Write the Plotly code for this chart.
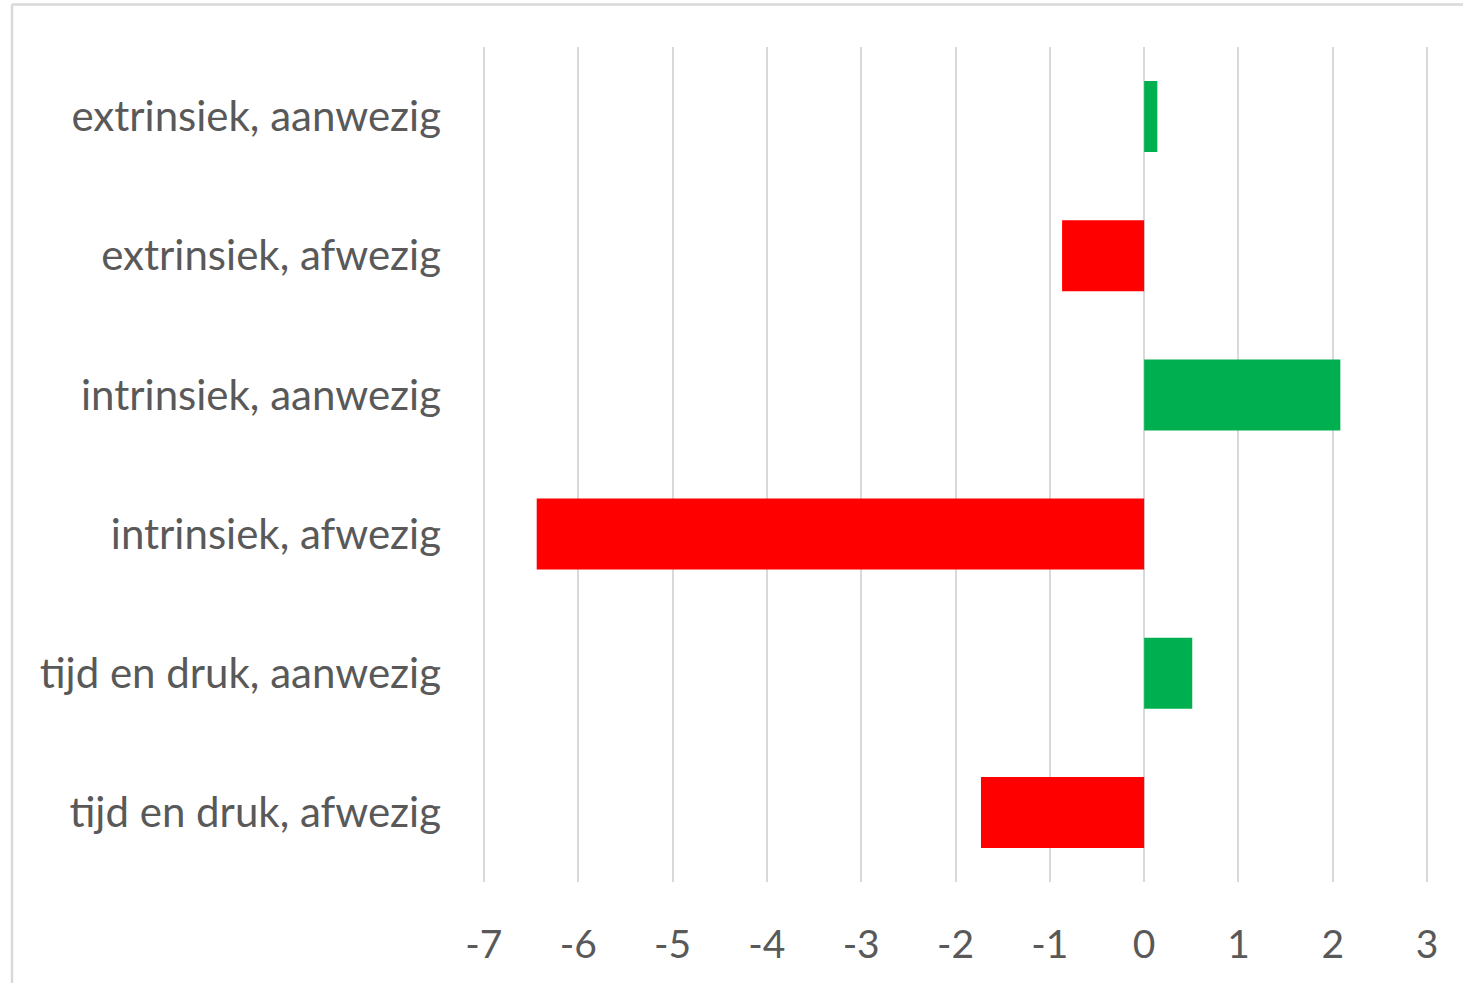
import plotly.graph_objects as go

# categories top to bottom, as in the chart
categories = [
    "extrinsiek, aanwezig",
    "extrinsiek, afwezig",
    "intrinsiek, aanwezig",
    "intrinsiek, afwezig",
    "tijd en druk, aanwezig",
    "tijd en druk, afwezig",
]
values = [0.14, -0.87, 2.08, -6.44, 0.51, -1.73]
x_ticks = [-7, -6, -5, -4, -3, -2, -1, 0, 1, 2, 3]

colors = ["#00B050" if v >= 0 else "#FF0000" for v in values]

fig = go.Figure(go.Bar(
    x=values, y=categories, orientation="h",
    marker=dict(color=colors, line=dict(width=0)),
    showlegend=False,
))

text_color = "#595959"
grid_color = "#D9D9D9"

# plot area: x from 482 to 1429 px, y from 47 to 882 px
left, right, top, bottom = 482, 34, 47, 101
pw = 1463 - left - right
ph = 983 - top - bottom
bx = (12 - left) / pw          # border x in paper coords
by = 1 + (top - 4.5) / ph      # border y in paper coords

fig.update_layout(
    width=1463, height=983,
    margin=dict(l=left, r=right, t=top, b=bottom),
    paper_bgcolor="white", plot_bgcolor="white",
    font=dict(family="Lato, 'Open Sans', sans-serif", color=text_color, size=40),
    bargap=0.49,
    xaxis=dict(
        range=[-7.02, 3.02], tickvals=x_ticks, ticktext=[str(t) for t in x_ticks],
        showgrid=True, gridcolor=grid_color, gridwidth=2,
        zeroline=False, showline=False, ticks="",
        ticklabelstandoff=36,
        tickfont=dict(size=39, color=text_color),
    ),
    yaxis=dict(
        autorange="reversed", showgrid=False, zeroline=False, showline=False,
        ticks="", ticklabelstandoff=40,
        tickfont=dict(size=42, color=text_color),
    ),
    shapes=[
        # chart area border (top and left edges visible)
        dict(type="line", xref="paper", yref="paper",
             x0=bx, x1=1.1, y0=by, y1=by,
             line=dict(color=grid_color, width=2.5)),
        dict(type="line", xref="paper", yref="paper",
             x0=bx, x1=bx, y0=by, y1=-0.2,
             line=dict(color=grid_color, width=2.5)),
    ],
)

fig.write_html("out.html", config={"displayModeBar": False},
               post_script="document.body.style.margin='0px';")
